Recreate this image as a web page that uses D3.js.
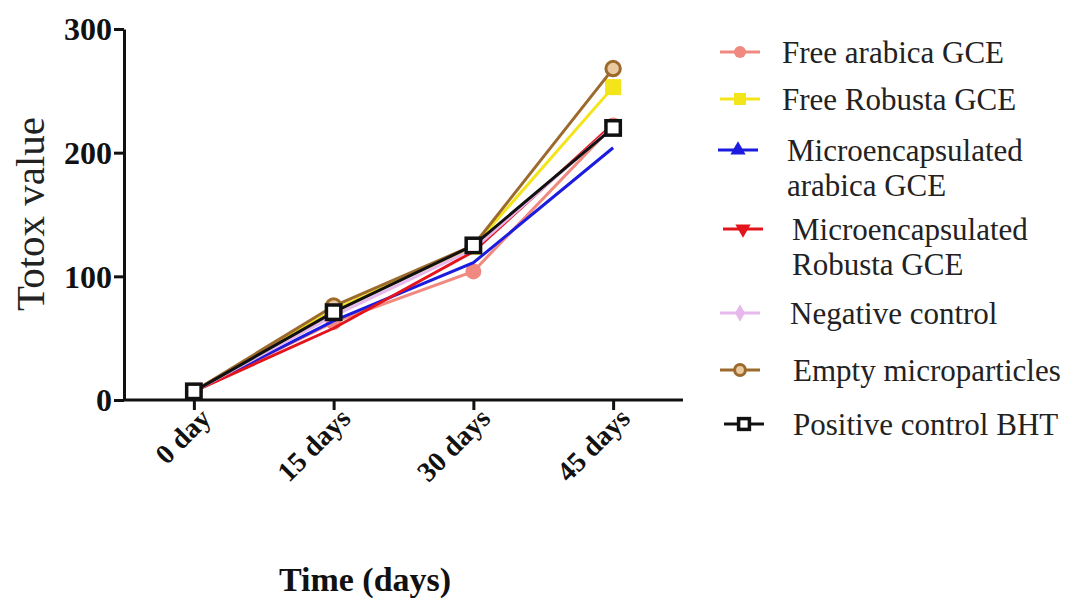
<!DOCTYPE html>
<html lang="en">
<head>
    <meta charset="UTF-8">
    <title>Totox value</title>
    <script src="https://cdnjs.cloudflare.com/ajax/libs/d3/7.8.5/d3.min.js"></script>
    <style>
        body { margin: 0; background: #fff; }
        text { font-family: "Liberation Serif", "Times New Roman", serif; }
        .axis path, .axis line { stroke: #111; stroke-width: 3px; }
        .series path { fill: none; stroke-width: 3px; }
    </style>
</head>
<body>
    <div id="chart"></div>

    <script>
        // categories and series values
        const days = ["0 day", "15 days", "30 days", "45 days"];
        const yTicks = [0, 100, 200, 300];

        const freeArabica = [7, 63, 104, 222];
        const freeRobusta = [7, 73, 124, 253];
        const microArabica = [7, 64, 111, 204];
        const microRobusta = [7, 58, 120, 223];
        const negativeControl = [7, 68, 122, 221];
        const emptyParticles = [7, 76, 125, 268];
        const positiveBHT = [7, 71, 125, 220];

        const seriesNames = [
            ["Free arabica GCE"],
            ["Free Robusta GCE"],
            ["Microencapsulated", "arabica GCE"],
            ["Microencapsulated", "Robusta GCE"],
            ["Negative control"],
            ["Empty microparticles"],
            ["Positive control BHT"]
        ];
        const seriesValues = [freeArabica, freeRobusta, microArabica, microRobusta,
                              negativeControl, emptyParticles, positiveBHT];
        const colors = ["#f08a80", "#f4e41a", "#1c1ce0", "#e4141c", "#e6b8ec", "#9c6a2c", "#111111"];
        const shapes = ["circle", "square", "triangle", "triangleDown", "diamond", "circleOpen", "squareOpen"];

        const width = 1068, height = 599;

        const svg = d3.select("#chart").append("svg")
            .attr("width", width)
            .attr("height", height);

        const x = d3.scalePoint().domain(days).range([124, 683]).padding(0.5);
        const y = d3.scaleLinear().domain([0, 300]).range([400, 29]);

        // axes
        const yAxis = svg.append("g")
            .attr("class", "axis")
            .attr("transform", "translate(124,0)")
            .call(d3.axisLeft(y).tickValues(yTicks).tickSize(10).tickSizeOuter(0).tickPadding(2));
        yAxis.selectAll("text")
            .style("font-size", "32px").style("font-weight", "bold").attr("fill", "#111")
            .attr("dy", "0.34em");

        const xAxis = svg.append("g")
            .attr("class", "axis")
            .attr("transform", "translate(0,400)")
            .call(d3.axisBottom(x).tickSize(10).tickSizeOuter(0));
        xAxis.select(".domain").attr("d", "M124,0H683");
        xAxis.selectAll("text")
            .style("font-size", "28px").style("font-weight", "bold").attr("fill", "#111")
            .attr("text-anchor", "end")
            .attr("dy", 0).attr("y", 0)
            .attr("transform", "translate(18,20) rotate(-45)");

        svg.append("text")
            .attr("transform", "translate(44,214) rotate(-90)")
            .attr("text-anchor", "middle")
            .style("font-size", "41px")
            .attr("fill", "#222")
            .text("Totox value");

        svg.append("text")
            .attr("x", 365).attr("y", 591)
            .attr("text-anchor", "middle")
            .style("font-size", "34px").style("font-weight", "bold")
            .attr("fill", "#111")
            .text("Time (days)");

        // marker drawing
        function drawMarker(g, shape, color, size) {
            const s = size;
            if (shape === "circle") {
                g.append("circle").attr("r", s * 0.5).attr("fill", color);
            } else if (shape === "circleOpen") {
                g.append("circle").attr("r", s * 0.45).attr("fill", "#e8c9a0")
                    .attr("stroke", color).attr("stroke-width", 3);
            } else if (shape === "square") {
                g.append("rect").attr("x", -s / 2).attr("y", -s / 2)
                    .attr("width", s).attr("height", s).attr("fill", color);
            } else if (shape === "squareOpen") {
                g.append("rect").attr("x", -s * 0.45).attr("y", -s * 0.45)
                    .attr("width", s * 0.9).attr("height", s * 0.9).attr("fill", "#fff")
                    .attr("stroke", color).attr("stroke-width", 3.5);
            } else if (shape === "triangle") {
                g.append("path").attr("d", d3.symbol(d3.symbolTriangle, s * s * 0.7)()).attr("fill", color);
            } else if (shape === "triangleDown") {
                g.append("path").attr("d", d3.symbol(d3.symbolTriangle, s * s * 0.7)())
                    .attr("transform", "rotate(180)").attr("fill", color);
            } else if (shape === "diamond") {
                g.append("path").attr("d", d3.symbol(d3.symbolDiamond, s * s * 0.6)()).attr("fill", color);
            }
        }

        const line = d3.line()
            .x((d, i) => x(days[i]))
            .y(d => y(d));

        seriesValues.forEach(function(vals, k) {
            const g = svg.append("g").attr("class", "series");
            g.append("path")
                .attr("d", line(vals))
                .attr("stroke", colors[k]);
            vals.forEach(function(v, i) {
                const m = g.append("g").attr("transform", "translate(" + x(days[i]) + "," + y(v) + ")");
                drawMarker(m, shapes[k], colors[k], 16);
            });
        });

        // legend
        const legendY = [52, 99, 150, 229, 313, 370, 424];
        const legendLineX = [720, 720, 718, 723, 720, 720, 724];
        const legendTextX = [782, 782, 787, 792, 790, 793, 793];

        seriesNames.forEach(function(lines, k) {
            const lg = svg.append("g");
            lg.append("line")
                .attr("x1", legendLineX[k]).attr("x2", legendLineX[k] + 40)
                .attr("y1", legendY[k]).attr("y2", legendY[k])
                .attr("stroke", colors[k]).attr("stroke-width", 3);
            const m = lg.append("g").attr("transform", "translate(" + (legendLineX[k] + 20) + "," + legendY[k] + ")");
            drawMarker(m, shapes[k], colors[k], 12);
            const t = lg.append("text")
                .attr("x", legendTextX[k]).attr("y", legendY[k])
                .style("font-size", "31px")
                .attr("fill", "#222");
            lines.forEach(function(s, j) {
                t.append("tspan").attr("x", legendTextX[k]).attr("dy", j === 0 ? "0.35em" : "1.13em").text(s);
            });
        });
    </script>
</body>
</html>
